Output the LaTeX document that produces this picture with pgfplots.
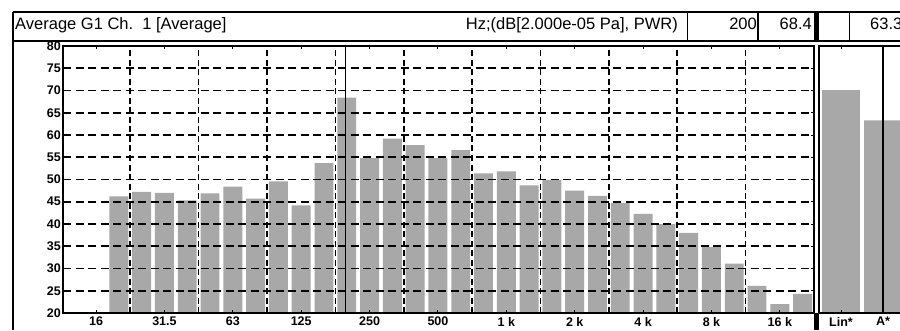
\documentclass[border=0pt]{standalone}
\usepackage{pgfplots}
\pgfplotsset{compat=1.18}
\usepackage{fontspec}
\setmainfont{Liberation Sans}
\definecolor{bargray}{RGB}{168,168,168}
\begin{document}
\begin{tikzpicture}
\path[use as bounding box] (0pt,0pt) rectangle (900pt,330pt);
\clip (0pt,0pt) rectangle (900pt,330pt);
\begin{scope}[x=1pt,y=1pt]
% header frame
\draw[line width=1.3pt] (13,318) -- (905,318);
\draw[line width=1.3pt] (13,289) -- (905,289);
\draw[line width=1.3pt] (13,318) -- (13,0);
\draw[line width=1pt] (687,318) -- (687,289);
\draw[line width=1.2pt] (758,318) -- (758,289);
\draw[line width=1pt] (849,318) -- (849,289);
\fill[black] (814,318.6) rectangle (819,288.4);
\fill[black] (814,17) rectangle (819,0);
\node[anchor=base west, inner sep=0pt, font=\fontsize{16.5}{18}\selectfont] at (15,300) {Average G1 Ch.\ \ 1 [Average]};
\node[anchor=base east, inner sep=0pt, font=\fontsize{16.5}{18}\selectfont] at (678,300) {Hz;(dB[2.000e-05 Pa], PWR)};
\node[anchor=base east, inner sep=0pt, font=\fontsize{16.5}{18}\selectfont] at (757,300) {200};
\node[anchor=base east, inner sep=0pt, font=\fontsize{16.5}{18}\selectfont] at (812,300) {68.4};
\node[anchor=base west, inner sep=0pt, font=\fontsize{16.5}{18}\selectfont] at (870,300) {63.3};
\end{scope}
\begin{axis}[
  at={(63pt,17pt)}, anchor=south west,
  scale only axis, width=751pt, height=267pt,
  xmin=-1.45, xmax=31.5, ymin=20, ymax=80,
  ytick={20,25,...,80},
  xtick={0,3,...,30},
  xticklabels={16,31.5,63,125,250,500,1 k,2 k,4 k,8 k,16 k},
  extra x ticks={1.5,4.5,...,28.5},
  extra x tick labels={},
  extra x tick style={xmajorgrids=true, major tick length=0pt,
     major grid style={black, line width=1.6pt, dash pattern=on 6pt off 3.5pt}},
  ymajorgrids=true,
  major grid style={black, line width=1.7pt, dash pattern=on 8pt off 4.5pt},
  axis on top,
  tick align=inside,
  major tick length=3pt,
  tick style={black, line width=1pt},
  axis line style={black, line width=1.2pt},
  /pgf/number format/assume math mode=true,
  yticklabel style={font=\fontsize{12.5}{12.5}\selectfont\bfseries, inner sep=1pt, xshift=-1pt},
  xticklabel style={font=\fontsize{12.5}{12.5}\selectfont\bfseries, inner sep=0.5pt, yshift=-3.5pt},
]
\addplot[ybar, bar width=0.83, fill=bargray, draw=none] coordinates {
 (1,46.2) (2,47.2) (3,47.0) (4,45.3) (5,46.9) (6,48.4) (7,45.7) (8,49.6)
 (9,44.2) (10,53.7) (11,68.4) (12,54.8) (13,59.2) (14,57.7) (15,54.8) (16,56.6)
 (17,51.4) (18,51.8) (19,48.7) (20,49.9) (21,47.5) (22,46.3) (23,44.7) (24,42.3)
 (25,40.0) (26,38.0) (27,34.8) (28,31.1) (29,26.1) (30,22.0) (31,24.3)
};
\addplot[black, line width=1.3pt, no marks] coordinates {(10.93,20) (10.93,80)};
\draw[line width=2pt] (rel axis cs:0,1) -- (rel axis cs:0,0) -- (rel axis cs:1,0);
\end{axis}
\begin{axis}[
  at={(819pt,17pt)}, anchor=south west,
  scale only axis, width=120pt, height=267pt,
  xmin=-0.524, xmax=2.33, ymin=20, ymax=80,
  ytick=\empty,
  xtick={0,1}, xticklabels={Lin*,A*},
  axis on top,
  tick align=inside,
  major tick length=3pt,
  tick style={black, line width=1pt},
  axis line style={black, line width=1.2pt},
  xticklabel style={font=\fontsize{12.5}{12.5}\selectfont\bfseries, inner sep=0.5pt, yshift=-3.5pt},
]
\addplot[ybar, bar width=0.9, fill=bargray, draw=none] coordinates {(0,70.1) (1,63.3)};
\addplot[black, line width=1.3pt, no marks] coordinates {(1,20) (1,80)};
\draw[line width=2pt] (rel axis cs:0,0) -- (rel axis cs:1,0);
\end{axis}
\end{tikzpicture}
\end{document}
